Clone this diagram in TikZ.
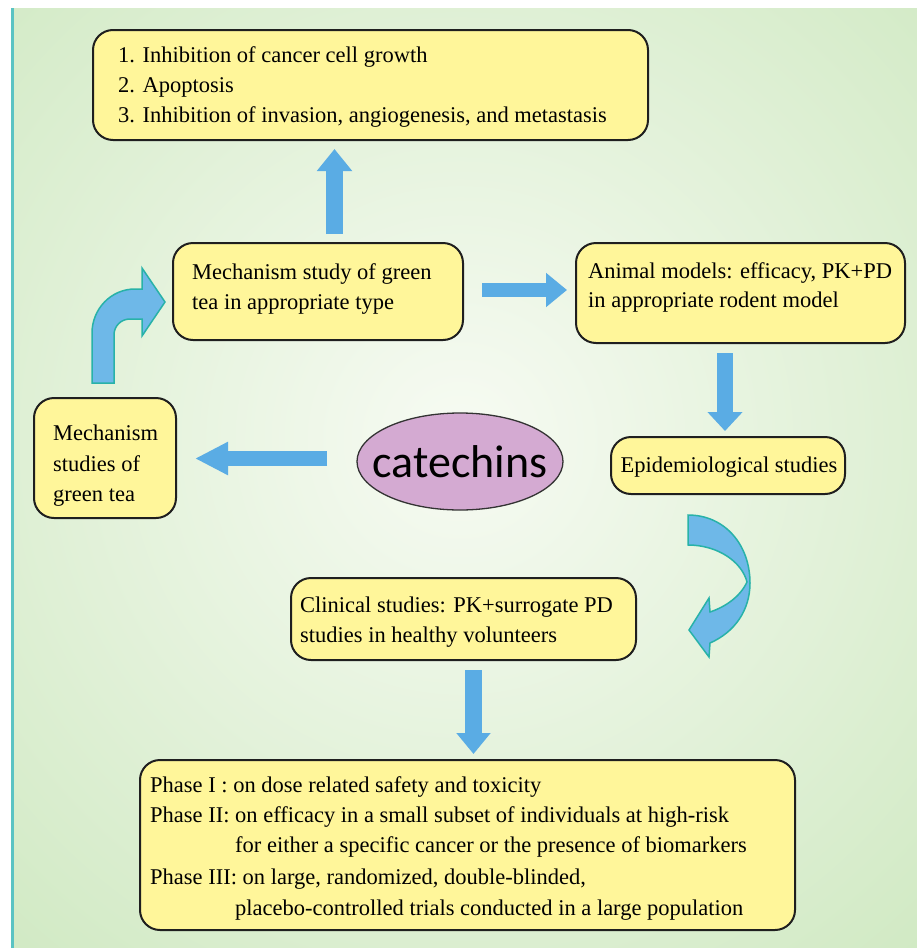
\documentclass[tikz,border=0pt]{standalone}
\usepackage{fontspec}
\setmainfont{Liberation Serif}
\newfontfamily\catfont{Carlito}
\usetikzlibrary{shapes.geometric,arrows.meta}
\definecolor{bggreen}{RGB}{197,228,181}
\definecolor{bgcenter}{RGB}{247,251,243}
\definecolor{boxfill}{RGB}{255,246,154}
\definecolor{arrowblue}{RGB}{90,172,228}
\definecolor{curveblue}{RGB}{110,184,232}
\definecolor{tealedge}{RGB}{40,178,168}
\definecolor{ellfill}{RGB}{212,170,210}
\definecolor{tealline}{RGB}{90,195,195}
\begin{document}
\begin{tikzpicture}[x=1pt,y=-1pt,
  stepbox/.style={draw=black!88, line width=2pt, fill=boxfill, rounded corners=20pt, inner sep=0pt},
  txt/.style={anchor=base west, inner sep=0pt, font=\fontsize{22.5}{27}\selectfont},
  curvearrow/.style={fill=curveblue, draw=tealedge, line width=1.5pt, line join=miter}
]
\useasboundingbox (0,0) rectangle (917,948);
% background
\fill[white] (0,0) rectangle (917,948);
\fill[bggreen] (14,8) rectangle (917,948);
\begin{scope}
  \clip (14,8) rectangle (917,948);
  \shade[inner color=bgcenter, outer color=bggreen] (460,440) circle (900pt);
\end{scope}
\fill[tealline] (11,8) rectangle (14,948);

% boxes
\node[stepbox, minimum width=555pt, minimum height=110pt] (top) at (370.5,85) {};
\node[txt] (top1) at (118,62) {1. Inhibition of cancer cell growth};
\node[txt] (top2) at (118,92) {2. Apoptosis};
\node[txt] (top3) at (118,122) {3. Inhibition of invasion, angiogenesis, and metastasis};

\node[stepbox, minimum width=290pt, minimum height=97pt] (mech) at (318,291.5) {};
\node[txt] (mech1) at (192,279) {Mechanism study of green};
\node[txt] (mech2) at (192,309) {tea in appropriate type};

\node[stepbox, minimum width=329pt, minimum height=100pt] (animal) at (740.5,293) {};
\node[txt] (animal1) at (588,278) {Animal models: efficacy, PK+PD};
\node[txt] (animal2) at (588,307) {in appropriate rodent model};

\node[stepbox, minimum width=234pt, minimum height=57pt] (epi) at (728,465.5) {};
\node[txt, anchor=base] (epi1) at (729,472) {Epidemiological studies};

\node[stepbox, minimum width=142pt, minimum height=120pt] (left) at (105,458) {};
\node[txt] (left1) at (53,440) {Mechanism};
\node[txt] (left2) at (53,471) {studies of};
\node[txt] (left3) at (53,501) {green tea};

\node[draw=black!80, line width=1.3pt, fill=ellfill, ellipse, minimum width=206pt, minimum height=97pt, inner sep=0pt,
      label={[font=\catfont\fontsize{46}{50}\selectfont, inner sep=0pt]center:catechins}] (cat) at (460,461.5) {};

\node[stepbox, minimum width=345pt, minimum height=82pt] (clin) at (463.5,619) {};
\node[txt] (clin1) at (300,612) {Clinical studies: PK+surrogate PD};
\node[txt] (clin2) at (300,642) {studies in healthy volunteers};

\node[stepbox, minimum width=655pt, minimum height=170pt] (phase) at (467.5,845) {};
\node[txt] (ph1) at (150,792) {Phase I : on dose related safety and toxicity};
\node[txt] (ph2) at (150,822) {Phase II: on efficacy in a small subset of individuals at high-risk};
\node[txt] (ph3) at (235,852) {for either a specific cancer or the presence of biomarkers};
\node[txt] (ph4) at (150,884) {Phase III: on large, randomized, double-blinded,};
\node[txt] (ph5) at (235,915) {placebo-controlled trials conducted in a large population};

% straight block arrows
\coordinate (upS) at (334.5,234);
\coordinate (upE) at (334.5,149);
\draw[arrowblue, line width=17pt, -{Triangle[length=22pt,width=34pt]}] (upS) -- (upE);

\coordinate (rtS) at (482,290);
\coordinate (rtE) at (567,290);
\draw[arrowblue, line width=14.5pt, -{Triangle[length=21pt,width=33pt]}] (rtS) -- (rtE);

\coordinate (dnS) at (725,353);
\coordinate (dnE) at (725,431);
\draw[arrowblue, line width=16pt, -{Triangle[length=19pt,width=34pt]}] (dnS) -- (dnE);

\coordinate (lfS) at (327,458.5);
\coordinate (lfE) at (195,458.5);
\draw[arrowblue, line width=15pt, -{Triangle[length=33pt,width=31pt]}] (lfS) -- (lfE);

\coordinate (dn2S) at (473.5,670);
\coordinate (dn2E) at (473.5,754);
\draw[arrowblue, line width=17pt, -{Triangle[length=21pt,width=33pt]}] (dn2S) -- (dn2E);

% curved arrows
\filldraw[curvearrow] (92,383) -- (92,333) .. controls (92,309) and (111,289) .. (135,289)
  -- (142,289) -- (142,268) -- (165,302) -- (142,336) -- (142,319) -- (130,319)
  .. controls (121,319) and (114,326) .. (114,335) -- (114,383) -- cycle;

\filldraw[curvearrow] (688,515) .. controls (725,515) and (750,545) .. (750,583)
  .. controls (750,610) and (735,632) .. (710,643) -- (709,657) -- (689,630) -- (709,598) -- (710,612)
  .. controls (725,607) and (740,597) .. (747,582)
  .. controls (742,562) and (718,545) .. (688,545) -- cycle;
\end{tikzpicture}
\end{document}
